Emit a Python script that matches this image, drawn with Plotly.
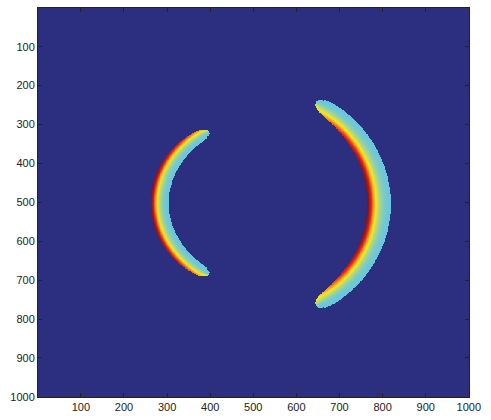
import numpy as np
import plotly.graph_objects as go

# Grid of the simulated field (pixel centres, 1..1000 on both axes)
grid_step = 1
xs = np.arange(1, 1001, grid_step)
ys = np.arange(1, 1001, grid_step)

# Two circular wave fronts around a common source
arc_name = ["near front", "far front"]
arc_cx = [488.0, 485.0]
arc_cy = [502.0, 504.0]
arc_radius = [205.0, 307.0]
arc_facing_deg = [180.0, 0.0]          # direction the arc bulges towards
arc_half_span_deg = [61.0, 56.0]
arc_mid_half_width = [21.0, 27.0]
arc_tip_half_width = [9.5, 13.0]
arc_hot_side = [1, -1]                 # +1: peak on outer edge, -1: peak on inner edge
arc_peak_drop = [0.3, 0.35]
arc_falloff = [0.8, 0.8]
falloff_power = 1.6

base_level = 0.37

# Colour map (jet as it appears in print)
cmap_pos = [0.0, 0.12, 0.30, 0.37, 0.46, 0.55, 0.64, 0.75, 0.87, 1.0]
cmap_col = ["#2c2e7f", "#2e3f9c", "#4aa6dc", "#62c5e4", "#92d0ac",
            "#cadc5a", "#f6e81c", "#f7941d", "#e1241b", "#7e1416"]

tick_vals = [100, 200, 300, 400, 500, 600, 700, 800, 900, 1000]
tick_text = [str(v) for v in tick_vals]

X, Y = np.meshgrid(xs.astype(float), ys.astype(float))
field = np.zeros_like(X)

for i in range(len(arc_name)):
    dx = X - arc_cx[i]
    dy = Y - arc_cy[i]
    r = np.hypot(dx, dy)
    phi = np.degrees(np.arctan2(dy, dx))
    a = (phi - arc_facing_deg[i] + 180.0) % 360.0 - 180.0
    span = arc_half_span_deg[i]
    s = np.clip(np.abs(a) / span, 0, 1)
    w = arc_tip_half_width[i] + (arc_mid_half_width[i] - arc_tip_half_width[i]) * np.cos(np.pi / 2 * s) ** 0.35
    t = r - arc_radius[i]
    inside = (np.abs(t) <= w) & (np.abs(a) <= span)
    # rounded ends
    for sgn in (1, -1):
        ang = np.radians(arc_facing_deg[i] + sgn * span)
        tx = arc_cx[i] + arc_radius[i] * np.cos(ang)
        ty = arc_cy[i] + arc_radius[i] * np.sin(ang)
        inside |= np.hypot(X - tx, Y - ty) <= arc_tip_half_width[i]
    d = np.clip(w - arc_hot_side[i] * t, 0, None)
    peak = 1.0 - arc_peak_drop[i] * s ** 3
    lam = arc_falloff[i] * w
    val = base_level + (peak - base_level) * np.exp(-(d / lam) ** falloff_power)
    field = np.where(inside, np.maximum(field, val), field)

# store as 8-bit levels to keep the page small
levels = np.round(field * 255).astype(np.uint8)

fig = go.Figure(
    go.Heatmap(
        x=xs, y=ys, z=levels,
        zmin=0, zmax=255,
        colorscale=[[p, c] for p, c in zip(cmap_pos, cmap_col)],
        showscale=False,
        hoverinfo="skip",
    )
)

axis_common = dict(
    tickvals=tick_vals,
    ticktext=tick_text,
    ticks="inside",
    ticklen=4,
    tickwidth=1,
    tickcolor="#222222",
    showline=True,
    linecolor="#222222",
    linewidth=1,
    mirror="ticks",
    showgrid=False,
    zeroline=False,
    tickfont=dict(family="Liberation Sans, Arial, sans-serif", size=11, color="#222222"),
)

fig.update_xaxes(range=[0.5, 1000.5], **axis_common)
fig.update_yaxes(range=[1000.5, 0.5], **axis_common)

fig.update_layout(
    width=491,
    height=420,
    margin=dict(l=38, r=22, t=7, b=16),
    paper_bgcolor="white",
    plot_bgcolor="#2c2e7f",
)

fig.write_html("out.html")
